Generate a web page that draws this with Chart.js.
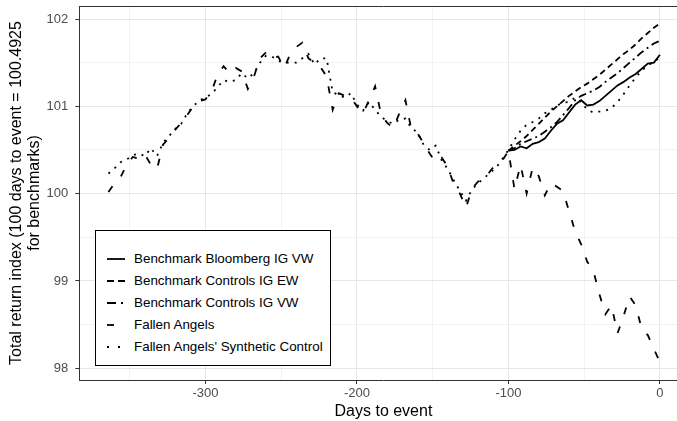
<!DOCTYPE html>
<html>
<head>
<meta charset="utf-8">
<script src="https://cdn.jsdelivr.net/npm/chart.js@4.4.1/dist/chart.umd.min.js"></script>
<style>
  html, body { margin: 0; padding: 0; background: #fff; overflow: hidden; }
  #wrap { position: absolute; left: 0; top: 0; width: 695px; height: 421px; }
  #legend {
    position: absolute; left: 95px; top: 230px; width: 236px; height: 136px;
    box-sizing: border-box; border: 1px solid #000; background: #fff;
    font-family: "Liberation Sans", Arial, sans-serif; font-size: 13.4px; color: #000;
  }
  #legend .row { position: absolute; left: 0; height: 22px; width: 100%; }
  #legend svg { position: absolute; left: 10px; top: 0; }
  #legend span { position: absolute; left: 38px; top: 0; line-height: 22px; white-space: nowrap; }
</style>
</head>
<body>
<div id="wrap">
  <canvas id="chart" width="695" height="421"></canvas>
  <div id="legend"></div>
</div>
<script>
// days to event
const daysAll = [-364,-360,-356,-352,-348,-344,-340,-336,-332,-328,-324,-320,-316,-312,-308,-304,-300,-296,-292,-288,
  -284,-280,-276,-272,-268,-264,-260,-256,-252,-248,-244,-240,-236,-232,-228,-224,-220,-216,-212,-208,
  -204,-200,-196,-192,-188,-184,-180,-176,-172,-168,-164,-160,-156,-152,-148,-144,-140,-136,-132,-128,
  -124,-120,-116,-112,-108,-104,-100,-96,-92,-88,-84,-80,-76,-72,-68,-64,-60,-56,-52,-48,
  -44,-40,-36,-32,-28,-24,-20,-16,-12,-8,-4,0];
const daysPost = [-100,-96,-92,-88,-84,-80,-76,-72,-68,-64,-60,-56,-52,-48,-44,-40,-36,-32,-28,-24,-20,-16,-12,-8,-4,0];

const fallenAngels = [100.02,100.12,100.19,100.33,100.42,100.40,100.45,100.33,100.28,100.56,100.64,100.73,100.81,100.90,101.00,101.06,101.08,101.17,101.36,101.46,
  101.38,101.44,101.40,101.20,101.34,101.55,101.62,101.55,101.57,101.44,101.60,101.68,101.73,101.55,101.50,101.45,101.34,100.96,101.15,101.12,
  101.10,101.00,100.92,101.07,101.23,100.90,100.81,100.75,100.92,101.07,100.73,100.69,100.58,100.46,100.36,100.41,100.31,100.10,100.00,99.84,
  100.06,100.14,100.16,100.26,100.34,100.38,100.49,100.05,100.33,100.00,100.30,100.20,99.98,100.12,100.08,100.03,99.80,99.57,99.42,99.22,
  99.12,98.85,98.62,98.72,98.40,98.60,98.82,98.72,98.45,98.38,98.22,98.07];
const syntheticControl = [100.23,100.29,100.36,100.39,100.44,100.46,100.43,100.52,100.43,100.58,100.66,100.74,100.80,100.92,101.00,101.07,101.10,101.14,101.22,101.30,
  101.28,101.30,101.38,101.32,101.38,101.50,101.58,101.57,101.52,101.50,101.50,101.50,101.55,101.60,101.48,101.55,101.55,101.16,101.13,101.10,
  101.15,101.02,100.95,101.05,100.96,100.88,100.83,100.80,100.85,100.86,100.75,100.70,100.56,100.50,100.55,100.38,100.28,100.15,100.03,99.92,
  100.05,100.12,100.18,100.24,100.30,100.40,100.50,100.62,100.72,100.79,100.82,100.86,100.92,100.96,101.01,101.04,101.05,101.10,101.05,100.96,
  100.93,100.94,100.95,100.98,101.05,101.14,101.24,101.33,101.41,101.47,101.51,101.56];
const bloombergIgVw = [100.4925,100.50,100.54,100.52,100.57,100.59,100.63,100.72,100.80,100.84,100.93,101.02,101.07,101.01,101.02,101.06,101.12,101.18,101.24,101.28,
  101.33,101.37,101.43,101.49,101.50,101.59];
const controlsIgEw = [100.4925,100.55,100.60,100.66,100.73,100.80,100.87,100.94,101.00,101.06,101.12,101.17,101.22,101.26,101.31,101.36,101.42,101.48,101.54,101.60,
  101.65,101.71,101.78,101.84,101.90,101.95];
const controlsIgVw = [100.4925,100.52,100.57,100.60,100.63,100.66,100.71,100.76,100.82,100.90,100.98,101.07,101.12,101.15,101.18,101.22,101.28,101.33,101.38,101.44,
  101.50,101.56,101.62,101.67,101.72,101.75];

const seriesNames = ['Benchmark Bloomberg IG VW', 'Benchmark Controls IG EW', 'Benchmark Controls IG VW', 'Fallen Angels', "Fallen Angels' Synthetic Control"];

// grid positions (majors get labels)
const xGrid = [-350, -300, -250, -200, -150, -100, -50, 0];
const xLabels = [-300, -200, -100, 0];
const yGrid = [98, 98.5, 99, 99.5, 100, 100.5, 101, 101.5, 102];
const yLabels = [98, 99, 100, 101, 102];

// dash patterns: solid, dashed, dotdash, longdash, dotted
const dashes = [[], [6, 4], [8, 4, 2, 4], [7, 13], [2, 6]];
const legendDashes = ['', '7 4', '9 5 2 5', '7 20', '2 9'];

function pts(xs, ys) {
  return xs.map((x, i) => ({ x: x, y: ys[i] }));
}

const seriesData = [
  pts(daysPost, bloombergIgVw),
  pts(daysPost, controlsIgEw),
  pts(daysPost, controlsIgVw),
  pts(daysAll, fallenAngels),
  pts(daysAll, syntheticControl)
];

const font = '"Liberation Sans", Arial, sans-serif';
const has = (list, v) => list.some(t => Math.abs(t - v) < 1e-6);
const tickVal = c => (c && c.tick) ? c.tick.value : NaN;

// top panel border
const topBorder = {
  id: 'topBorder',
  afterDraw(chart) {
    const { ctx, chartArea } = chart;
    ctx.save();
    ctx.strokeStyle = '#333';
    ctx.lineWidth = 1;
    ctx.beginPath();
    ctx.moveTo(chartArea.left, chartArea.top + 0.5);
    ctx.lineTo(chartArea.right, chartArea.top + 0.5);
    ctx.stroke();
    ctx.restore();
  }
};

new Chart(document.getElementById('chart').getContext('2d'), {
  type: 'line',
  data: {
    datasets: seriesData.map((d, i) => ({
      label: seriesNames[i],
      data: d,
      borderColor: '#000',
      borderWidth: 1.8,
      borderDash: dashes[i],
      borderCapStyle: 'butt',
      pointRadius: 0,
      tension: 0,
      fill: false
    }))
  },
  options: {
    responsive: false,
    animation: false,
    layout: { padding: { top: 6, right: 7.4, left: 0, bottom: 0 } },
    plugins: { legend: { display: false }, tooltip: { enabled: false } },
    scales: {
      x: {
        type: 'linear',
        position: 'bottom',
        min: -383.25,
        max: 18.25,
        afterBuildTicks: s => { s.ticks = xGrid.map(v => ({ value: v })); },
        afterFit: s => { s.height = 41; s.paddingLeft = 0; s.paddingRight = 0; },
        border: { color: '#333', width: 1 },
        grid: {
          color: c => has(xLabels, tickVal(c)) ? '#e6e6e6' : '#f2f2f2',
          lineWidth: 1,
          tickLength: 4,
          tickColor: c => has(xLabels, tickVal(c)) ? '#333' : 'rgba(0,0,0,0)'
        },
        ticks: {
          autoSkip: false,
          maxRotation: 0,
          padding: 2,
          color: '#4d4d4d',
          font: { family: font, size: 13 },
          callback: v => has(xLabels, v) ? String(Math.round(v)) : ''
        },
        title: {
          display: true,
          text: 'Days to event',
          color: '#000',
          font: { family: font, size: 16, lineHeight: 1.125 },
          padding: { top: 0, bottom: 0 }
        }
      },
      y: {
        type: 'linear',
        min: 97.866,
        max: 102.149,
        afterBuildTicks: s => { s.ticks = yGrid.map(v => ({ value: v })); },
        afterFit: s => { s.width = 79.3; s.paddingTop = 0; s.paddingBottom = 0; },
        border: { color: '#333', width: 1 },
        grid: {
          color: c => has(yLabels, tickVal(c)) ? '#e6e6e6' : '#f2f2f2',
          lineWidth: 1,
          tickLength: 4,
          tickColor: c => has(yLabels, tickVal(c)) ? '#333' : 'rgba(0,0,0,0)'
        },
        ticks: {
          autoSkip: false,
          padding: 7,
          color: '#4d4d4d',
          font: { family: font, size: 13 },
          callback: v => has(yLabels, v) ? String(Math.round(v)) : ''
        },
        title: {
          display: true,
          text: ['Total return index (100 days to event = 100.4925', 'for benchmarks)'],
          color: '#000',
          font: { family: font, size: 16, lineHeight: 1.125 },
          padding: { top: 8, bottom: 0 }
        }
      }
    }
  },
  plugins: [topBorder]
});

// legend box
const legend = document.getElementById('legend');
seriesNames.forEach((name, i) => {
  const row = document.createElement('div');
  row.className = 'row';
  row.style.top = (17.3 + 22 * i) + 'px';
  const dash = legendDashes[i] ? ` stroke-dasharray="${legendDashes[i]}"` : '';
  row.innerHTML = `<svg width="20" height="22"><line x1="1" y1="11" x2="19" y2="11" stroke="#000" stroke-width="1.8"${dash}/></svg><span>${name}</span>`;
  legend.appendChild(row);
});
</script>
</body>
</html>
